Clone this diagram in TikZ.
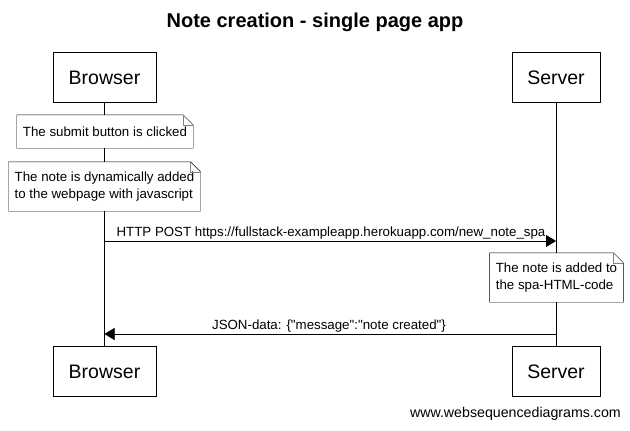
\documentclass[tikz,border=0pt]{standalone}
\usepackage{fontspec}
\setmainfont{Liberation Sans}[Ligatures=TeXOff]
\usetikzlibrary{arrows.meta}
\begin{document}
\begin{tikzpicture}[x=1pt, y=-1pt,
        actor/.style={draw, minimum height=50pt, inner xsep=15.5pt, font=\fontsize{19.5}{22}\selectfont},
        notebox/.style={fill=white, align=left, inner xsep=6pt, inner ysep=0pt, font=\fontsize{13.3}{16.5}\selectfont},
        msg/.style={-{Triangle[length=10pt,width=12pt]}},
        msgtext/.style={anchor=base, font=\fontsize{13.3}{16}\selectfont}]

        \useasboundingbox (0,0) rectangle (630,431);

        \node (title) at (315,22) {\fontsize{20}{24}\selectfont\bfseries Note creation - single page app};

        \node [actor] (bt) at (104.5,77.5) {Browser};
        \node [actor] (st) at (556,77.5) {Server};
        \node [actor] (bb) at (104.5,371.5) {Browser};
        \node [actor] (sb) at (556,371.5) {Server};

        \draw (bt.south) -- (bb.north);
        \draw (st.south) -- (sb.north);

        \node [notebox, minimum height=33pt] (n1) at (105,131.5) {The submit button is clicked};
        \node [notebox, minimum height=49pt] (n2) at (104.5,186.5) {The note is dynamically added\\to the webpage with javascript};
        \node [notebox, minimum height=49pt] (n3) at (556.5,277.5) {The note is added to\\the spa-HTML-code};

        \foreach \n in {n1,n2,n3} {
            \draw (\n.north west) -- ([xshift=-10pt]\n.north east) -- ([yshift=-10pt]\n.north east)
                -- (\n.south east) -- (\n.south west) -- cycle;
            \draw [gray] ([xshift=-10pt]\n.north east) |- ([yshift=-10pt]\n.north east);
        }

        \coordinate (postB) at (bt |- 0,241);
        \coordinate (postS) at (st |- 0,241);
        \coordinate (jsonS) at (st |- 0,334);
        \coordinate (jsonB) at (bt |- 0,334);

        \draw [msg] (postB) -- (postS);
        \draw [msg] (jsonS) -- (jsonB);

        \node [msgtext] (postlbl) at (331,236) {HTTP POST https://fullstack-exampleapp.herokuapp.com/new\_note\_spa};
        \node [msgtext] (jsonlbl) at (329,329) {JSON-data: \{"message":"note created"\}};

        \node [anchor=east, inner sep=0pt, font=\fontsize{14.2}{16}\selectfont] (site) at (621,414) {www.websequencediagrams.com};

    \end{tikzpicture}
\end{document}
